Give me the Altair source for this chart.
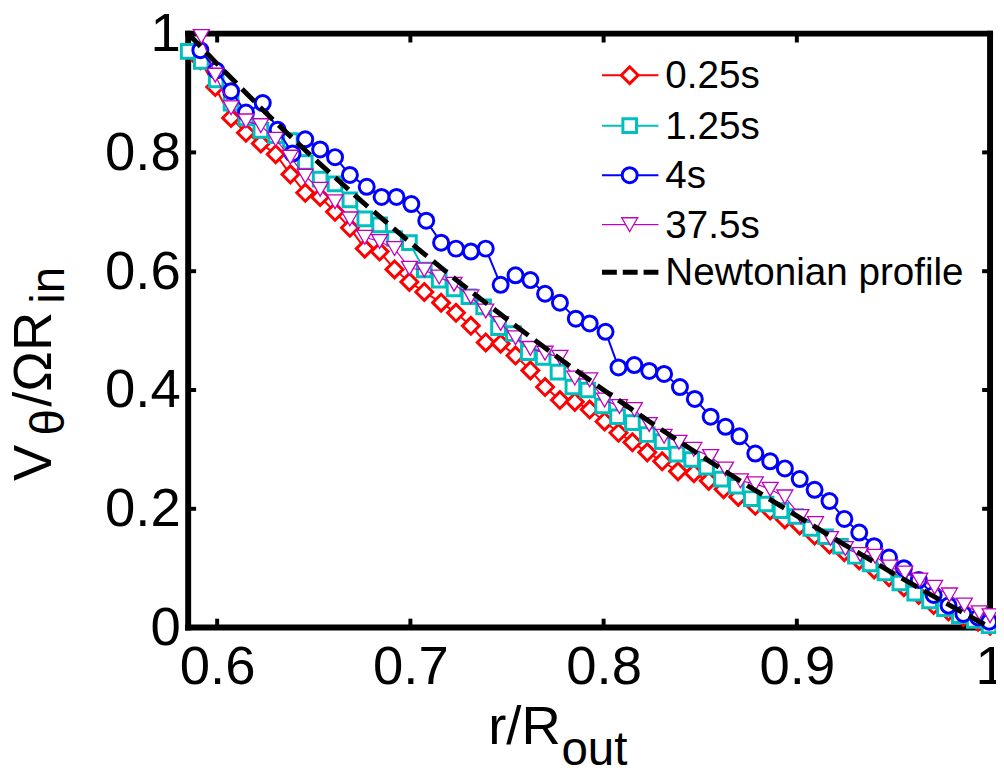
import altair as alt
import pandas as pd

# ---------------- data ----------------
r_025 = [0.5913, 0.5990, 0.6072, 0.6149, 0.6226, 0.6303, 0.6379, 0.6456, 0.6533, 0.6610,
         0.6687, 0.6764, 0.6841, 0.6918, 0.6995, 0.7072, 0.7159, 0.7236, 0.7313, 0.7390,
         0.7467, 0.7544, 0.7621, 0.7697, 0.7774, 0.7851, 0.7928, 0.8005, 0.8077, 0.8149,
         0.8226, 0.8303, 0.8385, 0.8467, 0.8544, 0.8621, 0.8697, 0.8785, 0.8862, 0.8938,
         0.9015, 0.9092, 0.9169, 0.9246, 0.9323, 0.9400, 0.9477, 0.9554, 0.9631, 0.9708,
         0.9785, 0.9862, 0.9938, 1.0000]
v_025 = [0.955, 0.910, 0.858, 0.833, 0.815, 0.797, 0.763, 0.732, 0.725, 0.700,
         0.673, 0.638, 0.633, 0.603, 0.582, 0.565, 0.547, 0.530, 0.508, 0.480,
         0.478, 0.458, 0.433, 0.405, 0.383, 0.380, 0.367, 0.347, 0.328, 0.312,
         0.295, 0.280, 0.263, 0.260, 0.247, 0.233, 0.220, 0.205, 0.197, 0.182,
         0.172, 0.155, 0.140, 0.127, 0.113, 0.098, 0.085, 0.068, 0.055, 0.038,
         0.027, 0.018, 0.010, 0.003]

r_125 = [0.5850, 0.5918, 0.5995, 0.6072, 0.6149, 0.6226, 0.6303, 0.6379, 0.6456, 0.6533,
         0.6610, 0.6687, 0.6764, 0.6841, 0.6918, 0.6995, 0.7072, 0.7149, 0.7226, 0.7303,
         0.7379, 0.7456, 0.7533, 0.7610, 0.7687, 0.7764, 0.7841, 0.7918, 0.7995, 0.8072,
         0.8149, 0.8226, 0.8303, 0.8379, 0.8456, 0.8533, 0.8610, 0.8687, 0.8764, 0.8841,
         0.8918, 0.8995, 0.9072, 0.9149, 0.9226, 0.9303, 0.9379, 0.9456, 0.9533, 0.9610,
         0.9687, 0.9764, 0.9841, 0.9918, 0.9995]
v_125 = [0.970, 0.953, 0.922, 0.883, 0.858, 0.837, 0.828, 0.820, 0.783, 0.755,
         0.747, 0.720, 0.688, 0.678, 0.655, 0.648, 0.602, 0.585, 0.570, 0.557,
         0.540, 0.505, 0.495, 0.463, 0.455, 0.430, 0.405, 0.400, 0.373, 0.355,
         0.345, 0.325, 0.313, 0.292, 0.283, 0.270, 0.250, 0.238, 0.217, 0.208,
         0.197, 0.187, 0.167, 0.153, 0.137, 0.120, 0.107, 0.092, 0.075, 0.058,
         0.045, 0.032, 0.020, 0.012, 0.003]

r_4 = [0.5913, 0.5995, 0.6072, 0.6149, 0.6236, 0.6313, 0.6390, 0.6456, 0.6533, 0.6610,
       0.6687, 0.6774, 0.6851, 0.6928, 0.7005, 0.7082, 0.7159, 0.7236, 0.7313, 0.7390,
       0.7467, 0.7544, 0.7621, 0.7697, 0.7774, 0.7856, 0.7928, 0.8010, 0.8077, 0.8159,
       0.8236, 0.8313, 0.8395, 0.8472, 0.8554, 0.8631, 0.8703, 0.8785, 0.8862, 0.8938,
       0.9015, 0.9092, 0.9169, 0.9246, 0.9323, 0.9400, 0.9477, 0.9554, 0.9631, 0.9708,
       0.9785, 0.9862, 0.9938, 0.9995]
v_4 = [0.972, 0.938, 0.903, 0.867, 0.883, 0.838, 0.798, 0.822, 0.805, 0.792,
       0.762, 0.742, 0.725, 0.725, 0.713, 0.685, 0.648, 0.638, 0.633, 0.638,
       0.577, 0.593, 0.585, 0.562, 0.547, 0.520, 0.512, 0.498, 0.438, 0.442,
       0.432, 0.427, 0.405, 0.385, 0.355, 0.338, 0.322, 0.293, 0.280, 0.268,
       0.250, 0.232, 0.213, 0.183, 0.160, 0.137, 0.118, 0.100, 0.080, 0.055,
       0.037, 0.023, 0.017, 0.010]

r_375 = [0.5918, 0.5990, 0.6072, 0.6149, 0.6226, 0.6303, 0.6379, 0.6456, 0.6533, 0.6610,
         0.6687, 0.6764, 0.6841, 0.6918, 0.6995, 0.7072, 0.7149, 0.7226, 0.7313, 0.7390,
         0.7467, 0.7544, 0.7621, 0.7697, 0.7774, 0.7851, 0.7928, 0.8005, 0.8082, 0.8159,
         0.8236, 0.8313, 0.8390, 0.8467, 0.8554, 0.8631, 0.8708, 0.8785, 0.8862, 0.8938,
         0.9021, 0.9097, 0.9174, 0.9251, 0.9328, 0.9405, 0.9482, 0.9559, 0.9636, 0.9713,
         0.9790, 0.9867, 0.9944, 1.0000]
v_375 = [0.995, 0.930, 0.875, 0.853, 0.845, 0.822, 0.792, 0.760, 0.738, 0.717,
         0.688, 0.657, 0.650, 0.638, 0.605, 0.602, 0.590, 0.578, 0.557, 0.533,
         0.512, 0.488, 0.470, 0.462, 0.455, 0.420, 0.417, 0.383, 0.372, 0.367,
         0.342, 0.322, 0.312, 0.300, 0.288, 0.267, 0.247, 0.242, 0.233, 0.220,
         0.187, 0.175, 0.150, 0.133, 0.123, 0.120, 0.102, 0.092, 0.080, 0.068,
         0.055, 0.038, 0.025, 0.020]

r_newt = [0.585, 0.600, 0.625, 0.650, 0.675, 0.700, 0.725, 0.750, 0.775, 0.800,
          0.825, 0.850, 0.875, 0.900, 0.925, 0.950, 0.975, 1.000]
v_newt = [1.000, 0.949, 0.867, 0.790, 0.717, 0.648, 0.582, 0.519, 0.458, 0.400,
          0.344, 0.290, 0.238, 0.188, 0.139, 0.091, 0.045, 0.000]

x_ticks = [0.6, 0.7, 0.8, 0.9, 1.0]
y_ticks = [0, 0.2, 0.4, 0.6, 0.8, 1.0]

labels = ["0.25s", "1.25s", "4s", "37.5s", "Newtonian profile"]
colors = ["#FF0000", "#00BFBF", "#0000FF", "#BF00BF", "#000000"]

FONT = "Liberation Sans"
W, H = 810, 600

X = alt.X("r:Q", scale=alt.Scale(domain=[0.585, 1.0], nice=False, zero=False),
          axis=alt.Axis(values=x_ticks, format="~g", title=None, ticks=False, tickSize=0,
                        domain=False, grid=False, labelFontSize=55, labelPadding=13,
                        labelFlush=False, labelOverlap=False, labelFont=FONT,
                        labelColor="black"))
Y = alt.Y("v:Q", scale=alt.Scale(domain=[0, 1], nice=False, zero=False),
          axis=alt.Axis(values=y_ticks, format="~g", title=None, ticks=False, tickSize=0,
                        domain=False, grid=False, labelFontSize=55, labelPadding=8,
                        labelFlush=False, labelOverlap=False, labelFont=FONT,
                        labelColor="black"))

layers = []

# frame (thick black box)
one_row = pd.DataFrame({"k": [0]})
FW = 6
layers.append(alt.Chart(one_row).mark_rule(color="black", strokeWidth=FW, strokeCap="square").encode(
    x=alt.value(0), x2=alt.value(W), y=alt.value(0)))
layers.append(alt.Chart(one_row).mark_rule(color="black", strokeWidth=FW, strokeCap="square").encode(
    x=alt.value(0), x2=alt.value(W), y=alt.value(H)))
layers.append(alt.Chart(one_row).mark_rule(color="black", strokeWidth=FW, strokeCap="square").encode(
    y=alt.value(0), y2=alt.value(H), x=alt.value(0)))
layers.append(alt.Chart(one_row).mark_rule(color="black", strokeWidth=FW, strokeCap="square").encode(
    y=alt.value(0), y2=alt.value(H), x=alt.value(W)))

# inward ticks on all four sides
xt = pd.DataFrame({"r": x_ticks})
yt = pd.DataFrame({"v": y_ticks})
layers.append(alt.Chart(xt).mark_rule(color="black", strokeWidth=4).encode(
    x=X, y=alt.value(H), y2=alt.value(H - 9)))
layers.append(alt.Chart(xt).mark_rule(color="black", strokeWidth=4).encode(
    x=X, y=alt.value(0), y2=alt.value(9)))
layers.append(alt.Chart(yt).mark_rule(color="black", strokeWidth=4).encode(
    y=Y, x=alt.value(0), x2=alt.value(8)))
layers.append(alt.Chart(yt).mark_rule(color="black", strokeWidth=4).encode(
    y=Y, x=alt.value(W), x2=alt.value(W - 8)))


def series(r, v, color, shape, size, sw, lw):
    df = pd.DataFrame({"r": r, "v": v})
    base = alt.Chart(df).encode(x=X, y=Y)
    line = base.mark_line(color=color, strokeWidth=lw, clip=False)
    pts = base.mark_point(shape=shape, size=size, filled=True, fill="white",
                          stroke=color, strokeWidth=sw, opacity=1, clip=False)
    return [line, pts]


SH = ["diamond", "square", "circle", "triangle-down"]
SZ = [290, 190, 230, 260]
SW = [3, 3, 3, 1.3]
LW = [2, 2, 2, 1.2]

layers += series(r_025, v_025, colors[0], SH[0], SZ[0], SW[0], LW[0])
layers += series(r_125, v_125, colors[1], SH[1], SZ[1], SW[1], LW[1])
layers += series(r_4, v_4, colors[2], SH[2], SZ[2], SW[2], LW[2])
layers += series(r_375, v_375, colors[3], SH[3], SZ[3], SW[3], LW[3])

newt = alt.Chart(pd.DataFrame({"r": r_newt, "v": v_newt})).mark_line(
    color="black", strokeWidth=5, strokeDash=[18, 8]).encode(x=X, y=Y)
layers.append(newt)

# legend
leg_y = [42, 93, 143, 193, 241]
for i, lab in enumerate(labels):
    one = pd.DataFrame({"t": [lab]})
    if i == 4:
        layers.append(alt.Chart(one).mark_rule(color="black", strokeWidth=5,
                                                strokeDash=[15, 6]).encode(
            x=alt.value(418), x2=alt.value(475), y=alt.value(leg_y[i])))
    else:
        layers.append(alt.Chart(one).mark_rule(color=colors[i], strokeWidth=LW[i]).encode(
            x=alt.value(418), x2=alt.value(475), y=alt.value(leg_y[i])))
        layers.append(alt.Chart(one).mark_point(shape=SH[i], size=SZ[i], filled=True,
                                                fill="white", stroke=colors[i],
                                                strokeWidth=SW[i], opacity=1).encode(
            x=alt.value(446), y=alt.value(leg_y[i])))
    layers.append(alt.Chart(one).mark_text(align="left", baseline="middle", fontSize=39,
                                           font=FONT, color="black").encode(
        x=alt.value(482), y=alt.value(leg_y[i] + 1), text="t:N"))


# axis titles with subscripts
def txt(s, x, y, size, angle=0):
    return alt.Chart(pd.DataFrame({"t": [s]})).mark_text(
        align="left", baseline="alphabetic", fontSize=size, font=FONT, color="black",
        angle=angle).encode(x=alt.value(x), y=alt.value(y), text="t:N")


layers.append(txt("r/R", 303, 718, 55))
layers.append(txt("out", 377, 739, 48))
layers.append(txt("V", -139, 452, 55, 270))
layers.append(txt("θ", -125, 406, 48, 270))
layers.append(txt("/ΩR", -139, 377, 55, 270))
layers.append(txt("in", -125, 273, 48, 270))

chart = alt.layer(*layers).properties(
    width=W, height=H,
    autosize=alt.AutoSizeParams(type="none"),
    padding={"left": 182, "top": 22, "right": 6, "bottom": 140},
).configure_view(stroke=None).configure(background="white")

chart.save("out.html", embed_options={"renderer": "svg", "actions": False})
